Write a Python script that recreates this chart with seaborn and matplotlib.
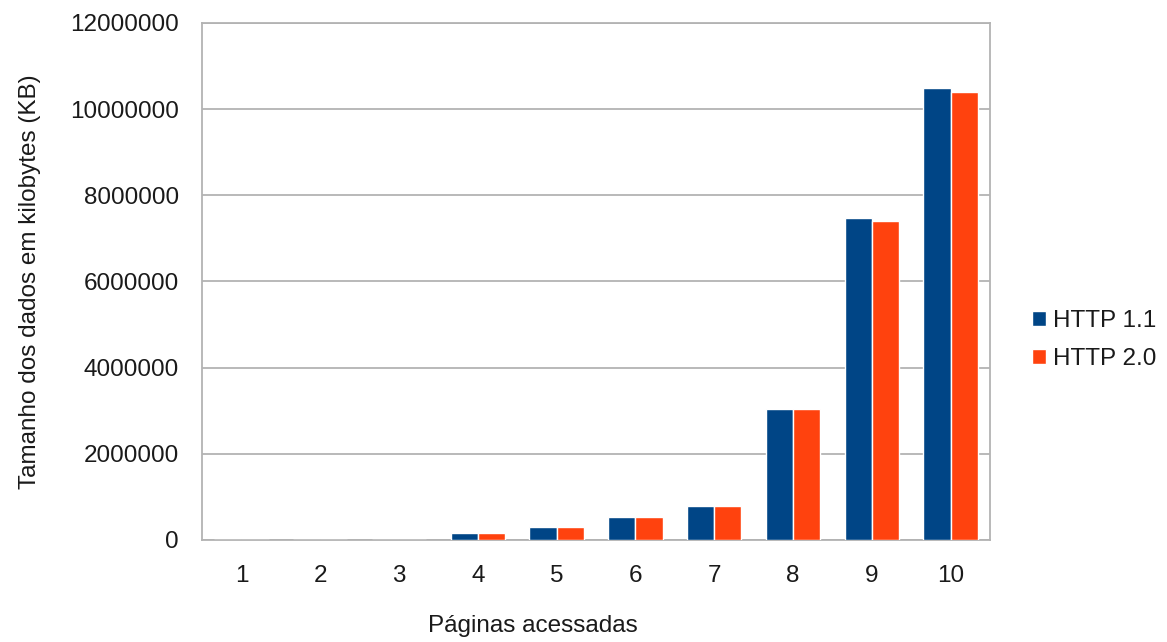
import numpy as np
import pandas as pd
import seaborn as sns
import matplotlib.pyplot as plt
from matplotlib.patches import Patch
from matplotlib.ticker import FixedLocator

# data
paginas = ["1", "2", "3", "4", "5", "6", "7", "8", "9", "10"]
http11 = [1000, 2000, 4000, 155000, 295000, 530000, 800000, 3040000, 7470000, 10480000]
http20 = [1000, 2000, 4000, 155000, 295000, 530000, 800000, 3040000, 7410000, 10400000]
series = ["HTTP 1.1", "HTTP 2.0"]
cores = ["#004586", "#ff420e"]
yticks = [0, 2000000, 4000000, 6000000, 8000000, 10000000, 12000000]

df = pd.DataFrame({
    "pagina": paginas * 2,
    "valor": http11 + http20,
    "serie": [series[0]] * len(paginas) + [series[1]] * len(paginas),
})

sns.set_style("white")
plt.rcParams["font.family"] = ["Liberation Sans", "DejaVu Sans"]
plt.rcParams["text.color"] = "#1a1a1a"
plt.rcParams["axes.labelcolor"] = "#1a1a1a"
plt.rcParams["xtick.labelcolor"] = "#1a1a1a"
plt.rcParams["ytick.labelcolor"] = "#1a1a1a"
grid_color = "#b3b3b3"
fs = 17.5

fig = plt.figure(figsize=(11.67, 6.42), dpi=100)
ax = fig.add_axes([0.1731, 0.1589, 0.8483 - 0.1731, 0.9642 - 0.1589])

sns.barplot(data=df, x="pagina", y="valor", hue="serie", order=paginas,
            palette=cores, width=0.69, gap=0, saturation=1, ax=ax,
            legend=False, zorder=3)

ax.set_xlim(-0.5, len(paginas) - 0.5)
ax.set_ylim(0, 12000000)
ax.set_yticks(yticks)
ax.set_yticklabels([str(v) for v in yticks])
ax.yaxis.grid(True, color=grid_color, linewidth=1.3)
ax.set_axisbelow(True)

# x ticks drawn between categories, labels centered
ax.set_xticks(range(len(paginas)))
ax.set_xticklabels(paginas)
ax.xaxis.set_minor_locator(FixedLocator(np.arange(-0.5, len(paginas), 1.0)))
ax.tick_params(axis="x", which="major", length=0, pad=18, labelsize=fs)
ax.tick_params(axis="x", which="minor", length=8, width=1.3, color=grid_color, direction="out")
ax.tick_params(axis="y", length=8, width=1.3, color=grid_color, pad=8.5, labelsize=fs)
for s in ax.spines.values():
    s.set_color(grid_color)
    s.set_linewidth(1.3)

ax.set_xlabel("Páginas acessadas", fontsize=fs)
ax.xaxis.set_label_coords(0.42, -0.145)
ax.set_ylabel("Tamanho dos dados em kilobytes (KB)", fontsize=fs, labelpad=21)

handles = [Patch(facecolor=c, label=s) for c, s in zip(cores, series)]
fig.legend(handles=handles, loc="center left", bbox_to_anchor=(0.866, 0.47),
           frameon=False, fontsize=fs, handlelength=0.55, handleheight=0.55,
           handletextpad=0.3, labelspacing=0.65)

fig.savefig("out.png", dpi=100)
